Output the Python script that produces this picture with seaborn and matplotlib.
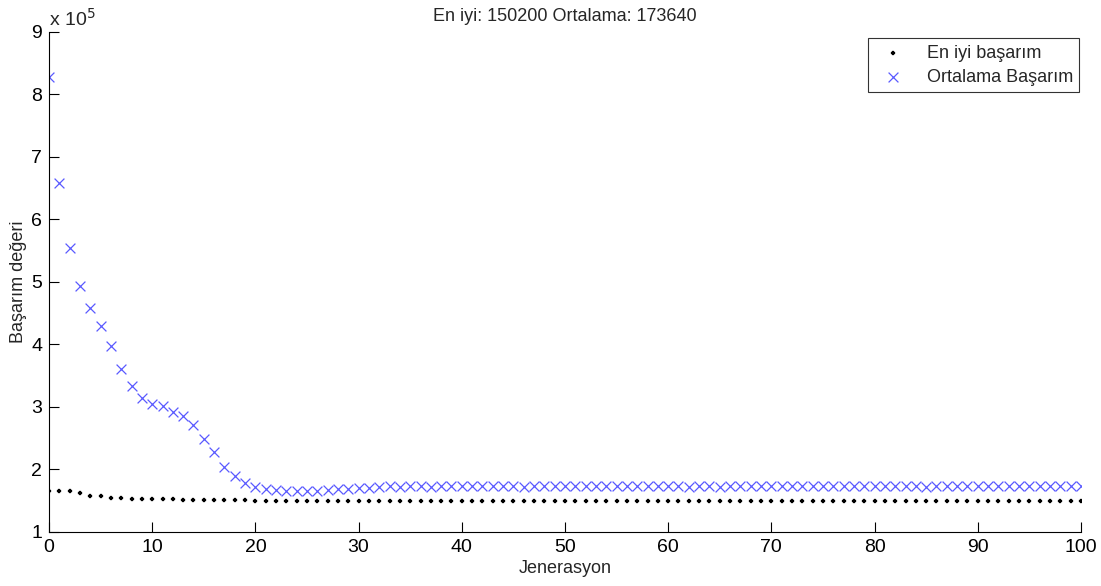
import matplotlib
matplotlib.use("Agg")
import matplotlib.pyplot as plt
import seaborn as sns
import pandas as pd

# generation numbers and fitness values (in units of 1e5)
generations = list(range(0, 101))

best_fitness = [
    1.66, 1.66, 1.66, 1.62, 1.57, 1.57, 1.54, 1.54, 1.52, 1.52,
    1.52, 1.52, 1.52, 1.51, 1.51, 1.51, 1.51, 1.51, 1.51, 1.51,
    1.502, 1.502, 1.502, 1.502, 1.502, 1.502, 1.502, 1.502, 1.502, 1.502,
    1.502, 1.502, 1.502, 1.502, 1.502, 1.502, 1.502, 1.502, 1.502, 1.502,
    1.502, 1.502, 1.502, 1.502, 1.502, 1.502, 1.502, 1.502, 1.502, 1.502,
    1.502, 1.502, 1.502, 1.502, 1.502, 1.502, 1.502, 1.502, 1.502, 1.502,
    1.502, 1.502, 1.502, 1.502, 1.502, 1.502, 1.502, 1.502, 1.502, 1.502,
    1.502, 1.502, 1.502, 1.502, 1.502, 1.502, 1.502, 1.502, 1.502, 1.502,
    1.502, 1.502, 1.502, 1.502, 1.502, 1.502, 1.502, 1.502, 1.502, 1.502,
    1.502, 1.502, 1.502, 1.502, 1.502, 1.502, 1.502, 1.502, 1.502, 1.502,
    1.502,
]

mean_fitness = [
    8.28, 6.58, 5.54, 4.94, 4.58, 4.30, 3.97, 3.60, 3.34, 3.15,
    3.05, 3.02, 2.92, 2.86, 2.71, 2.49, 2.28, 2.04, 1.89, 1.79,
    1.72, 1.68, 1.67, 1.66, 1.65, 1.66, 1.65, 1.67, 1.69, 1.69,
    1.71, 1.71, 1.72, 1.73, 1.72, 1.73, 1.73, 1.72, 1.73, 1.74,
    1.73, 1.74, 1.73, 1.73, 1.74, 1.73, 1.72, 1.73, 1.73, 1.74,
    1.73, 1.74, 1.73, 1.73, 1.74, 1.73, 1.73, 1.74, 1.73, 1.73,
    1.74, 1.73, 1.72, 1.73, 1.73, 1.72, 1.73, 1.73, 1.74, 1.73,
    1.73, 1.74, 1.73, 1.73, 1.74, 1.73, 1.73, 1.73, 1.74, 1.73,
    1.73, 1.74, 1.73, 1.73, 1.73, 1.72, 1.73, 1.73, 1.73, 1.73,
    1.73, 1.74, 1.73, 1.73, 1.73, 1.73, 1.74, 1.73, 1.73, 1.73,
    1.7364,
]

xticks = [0, 10, 20, 30, 40, 50, 60, 70, 80, 90, 100]
yticks = [1, 2, 3, 4, 5, 6, 7, 8, 9]

df = pd.DataFrame({"gen": generations, "best": best_fitness, "mean": mean_fitness})

sns.set_style("ticks")
plt.rcParams['font.family'] = ['Liberation Sans', 'DejaVu Sans']

fig = plt.figure(figsize=(11.01, 5.86), dpi=100)
ax = fig.add_axes([0.0445, 0.0922, 0.9373, 0.8532])
ax.set_axisbelow(False)

sns.scatterplot(data=df, x="gen", y="best", ax=ax, marker="P", s=9,
                color="black", edgecolor="black", linewidth=0.2,
                label="En iyi başarım", zorder=3)
sns.scatterplot(data=df, x="gen", y="mean", ax=ax, marker="x", s=50,
                color="#5a5aff", linewidth=0.9,
                label="Ortalama Başarım", zorder=2)

ax.set_xlim(0, 100)
ax.set_ylim(1, 9)
ax.set_xticks(xticks)
ax.set_yticks(yticks)
ax.tick_params(axis="both", which="major", direction="in", length=7,
               width=0.8, colors="black", bottom=True, left=True,
               top=False, right=False, labelsize=14, pad=5)
ax.set_xlabel("Jenerasyon", fontsize=13, labelpad=3)
ax.set_ylabel("Başarım değeri", fontsize=13, labelpad=3)
ax.set_title("En iyi: 150200 Ortalama: 173640", fontsize=13, pad=8)
ax.spines["top"].set_visible(False)
ax.spines["right"].set_visible(False)
for s in ["left", "bottom"]:
    ax.spines[s].set_linewidth(0.8)
    ax.spines[s].set_color("black")

ax.text(0.0, 1.005, "x 10$^5$", transform=ax.transAxes, fontsize=14,
        ha="left", va="bottom")

leg = ax.legend(loc="upper right", bbox_to_anchor=(0.9985, 0.987),
                fontsize=13, frameon=True, fancybox=False,
                edgecolor="black", handletextpad=0.9, borderpad=0.35,
                labelspacing=0.4, borderaxespad=0)
leg.get_frame().set_linewidth(0.8)

fig.savefig("out.png", dpi=100)
